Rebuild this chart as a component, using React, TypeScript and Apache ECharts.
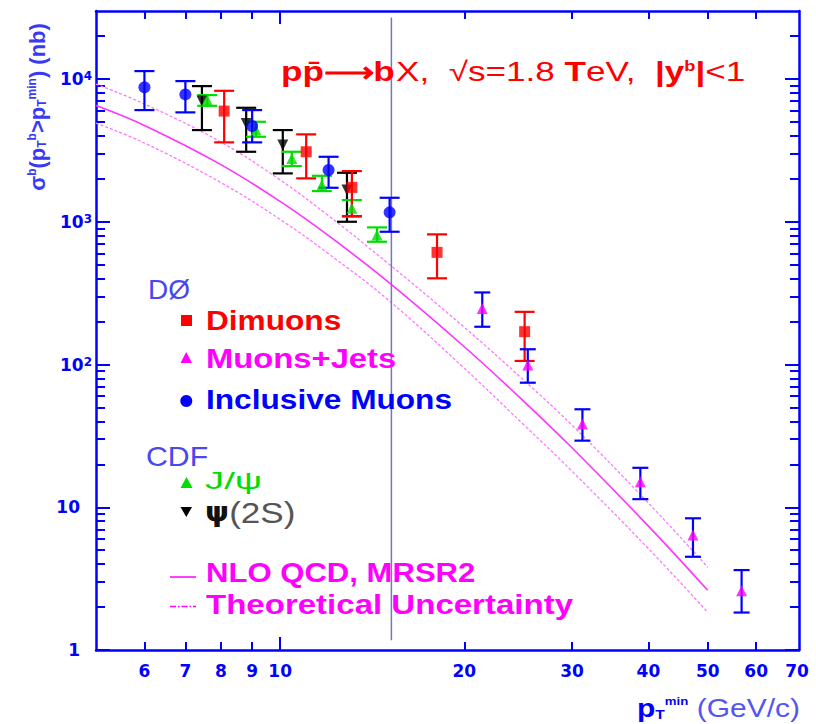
import React, { useEffect, useRef } from "react";
import * as echarts from "echarts";

// ---------- data (pT^min in GeV/c, sigma in nb) ----------
const inclusiveMuonsX = [6.0, 7.0, 9.0, 12.0, 15.1];
const inclusiveMuonsY = [8750, 7810, 4690, 2305, 1165];
const inclusiveMuonsLow = [6065, 5845, 3603, 1732, 852];
const inclusiveMuonsHigh = [11380, 9680, 6065, 2856, 1474];

const psi2SX = [7.45, 8.8, 10.1, 12.86];
const psi2SY = [7015, 4895, 3450, 1669];
const psi2SLow = [4394, 3096, 2184, 1001];
const psi2SHigh = [8930, 6295, 4394, 2206];

const jpsiX = [7.6, 9.13, 10.45, 11.7, 13.1, 14.4];
const jpsiY = [7128, 4394, 2783, 1809, 1243, 808];
const jpsiLow = [6500, 3944, 2458, 1642, 1085, 725];
const jpsiHigh = [7728, 5023, 3096, 2102, 1420, 914];

const dimuonsX = [8.1, 11.03, 13.1, 18.05, 25.1];
const dimuonsY = [5970, 3096, 1743, 611, 170];
const dimuonsLow = [3603, 2016, 1097, 402, 106];
const dimuonsHigh = [8280, 4100, 2267, 817, 234];

const muonsJetsX = [21.4, 25.4, 31.2, 38.8, 47.3, 56.8];
const muonsJetsY = [247.5, 99.2, 38.3, 15.1, 6.39, 2.6];
const muonsJetsLow = [184, 74.6, 29.3, 11.4, 4.5, 1.83];
const muonsJetsHigh = [320, 128, 48.6, 18.9, 8.37, 3.63];

const theoryX = [5, 6, 8, 10, 12, 15, 20, 25, 30, 40, 50];
const nloCentral = [6522, 4730, 2518, 1389, 799, 381, 133.3, 55.5, 26.1, 7.38, 2.62];
const nloUpper = [9225, 6693, 3620, 1965, 1103, 513, 182.5, 77.9, 37.6, 10.7, 3.8];
const nloLower = [4918, 3567, 1884, 1039, 597, 284.9, 94.2, 38.0, 17.9, 5.13, 1.84];

const dividerX = [15.2, 15.2];
const dividerY = [1.17, 27000];

// ---------- axes ----------
const xMin = 5;
const xMax = 70.5;
const yMin = 1;
const yMax = 30000;
const xShortTicks = [6, 7, 8, 9, 20, 30, 40, 50, 60];
const xLongTicks = [10];
const xLabelValues = [6, 7, 8, 9, 10, 20, 30, 40, 50, 60, 70];
const yMajorValues = [1, 10, 100, 1000, 10000];
const yLabelBase = ["1", "10", "10", "10", "10"];
const yLabelExp = ["", "", "2", "3", "4"];
const yMinorValues = [
  2, 3, 4, 5, 6, 7, 8, 9,
  20, 30, 40, 50, 60, 70, 80, 90,
  200, 300, 400, 500, 600, 700, 800, 900,
  2000, 3000, 4000, 5000, 6000, 7000, 8000, 9000,
  20000,
];

const BLUE = "#0000ff";
const RED = "#ff0000";
const MAGENTA = "#ff00ff";
const GREEN = "#00dd00";
const BLACK = "#000000";

function pts(xs: number[], ys: number[]) {
  return xs.map((x, i) => [x, ys[i]]);
}

function errorBars(name: string, xs: number[], lows: number[], highs: number[], color: string, halfCap: number) {
  return {
    type: "custom",
    name,
    xAxisIndex: 0,
    yAxisIndex: 0,
    silent: true,
    z: 3,
    data: xs.map((x, i) => [x, lows[i], highs[i]]),
    encode: { x: 0, y: [1, 2] },
    renderItem: (_params: any, api: any) => {
      const lo = api.coord([api.value(0), api.value(1)]);
      const hi = api.coord([api.value(0), api.value(2)]);
      const style = { stroke: color, lineWidth: 2.2, fill: null };
      return {
        type: "group",
        children: [
          { type: "line", shape: { x1: lo[0], y1: lo[1], x2: hi[0], y2: hi[1] }, style },
          { type: "line", shape: { x1: lo[0] - halfCap, y1: lo[1], x2: lo[0] + halfCap, y2: lo[1] }, style },
          { type: "line", shape: { x1: hi[0] - halfCap, y1: hi[1], x2: hi[0] + halfCap, y2: hi[1] }, style },
        ],
      };
    },
  };
}

function xAxisDef(position: "bottom" | "top", ticks: number[], len: number, showLine: boolean, showLabel: boolean) {
  return {
    type: "log",
    logBase: 10,
    min: xMin,
    max: xMax,
    position,
    axisLine: { show: showLine, onZero: false, lineStyle: { color: BLUE, width: 2.5 } },
    axisTick: { show: true, inside: true, length: len, customValues: ticks, lineStyle: { color: BLUE, width: 2 } },
    axisLabel: showLabel
      ? {
          show: true,
          customValues: xLabelValues,
          margin: 12,
          color: BLUE,
          fontFamily: "DejaVu Sans",
          fontWeight: "bold",
          fontSize: 17,
          formatter: (v: number) => String(Math.round(v)),
        }
      : { show: false },
    splitLine: { show: false },
    minorTick: { show: false },
    minorSplitLine: { show: false },
  };
}

function yAxisDef(position: "left" | "right", ticks: number[], len: number, showLine: boolean, showLabel: boolean) {
  return {
    type: "log",
    logBase: 10,
    min: yMin,
    max: yMax,
    position,
    axisLine: { show: showLine, onZero: false, lineStyle: { color: BLUE, width: 2.5 } },
    axisTick: { show: true, inside: true, length: len, customValues: ticks, lineStyle: { color: BLUE, width: 2 } },
    axisLabel: showLabel
      ? {
          show: true,
          customValues: yMajorValues,
          margin: 4,
          formatter: (v: number) => {
            const e = Math.round(Math.log10(v));
            return yLabelExp[e] ? `{b|${yLabelBase[e]}}{s|${yLabelExp[e]}}` : `{p|${yLabelBase[e]}}`;
          },
          rich: {
            b: { color: BLUE, fontFamily: "DejaVu Sans", fontWeight: "bold", fontSize: 17, lineHeight: 18 },
            s: { color: BLUE, fontFamily: "DejaVu Sans", fontWeight: "bold", fontSize: 12, lineHeight: 12, verticalAlign: "top" },
            p: { color: BLUE, fontFamily: "DejaVu Sans", fontWeight: "bold", fontSize: 17, lineHeight: 18, padding: [0, 12, 0, 0] },
          },
        }
      : { show: false },
    splitLine: { show: false },
    minorTick: { show: false },
    minorSplitLine: { show: false },
  };
}

function txt(x: number, y: number, text: string, font: string, fill: string, scaleX = 1) {
  return {
    type: "text",
    x,
    y,
    scaleX,
    z: 10,
    style: {
      text,
      font,
      fill,
      align: "left",
      verticalAlign: "middle",
      textAlign: "left",
      textVerticalAlign: "middle",
    },
  };
}

const LF = '"Liberation Sans", Arial, sans-serif';
const theoryLine = (name: string, ys: number[], color: string, width: number, type: any) => ({
  type: "line",
  name,
  data: pts(theoryX, ys),
  smooth: 0.4,
  symbol: "none",
  lineStyle: { color, width, type },
  z: 1,
  silent: true,
});

const option: any = {
  animation: false,
  backgroundColor: "#ffffff",
  textStyle: { fontFamily: "Liberation Sans" },
  grid: { left: 96, right: 17, top: 11, bottom: 74, containLabel: false, outerBoundsMode: "none" },
  xAxis: [
    xAxisDef("bottom", xShortTicks, 8, true, true),
    xAxisDef("bottom", xLongTicks, 13, false, false),
    xAxisDef("top", xShortTicks, 8, true, false),
    xAxisDef("top", xLongTicks, 13, false, false),
  ],
  yAxis: [
    yAxisDef("left", yMajorValues, 14, true, true),
    yAxisDef("left", yMinorValues, 9, false, false),
    yAxisDef("right", yMajorValues, 14, true, false),
    yAxisDef("right", yMinorValues, 9, false, false),
  ],
  series: [
    theoryLine("NLO QCD, MRSR2", nloCentral, "#ff33ff", 1.6, "solid"),
    theoryLine("upper", nloUpper, "#ff77ff", 1.3, [3, 2]),
    theoryLine("lower", nloLower, "#ff77ff", 1.3, [3, 2]),
    {
      type: "line",
      name: "divider",
      data: pts(dividerX, dividerY),
      symbol: "none",
      lineStyle: { color: "#7474c4", width: 1.5 },
      z: 2,
      silent: true,
    },
    errorBars("psi2S-err", psi2SX, psi2SLow, psi2SHigh, BLACK, 10),
    errorBars("jpsi-err", jpsiX, jpsiLow, jpsiHigh, GREEN, 10),
    errorBars("dimuons-err", dimuonsX, dimuonsLow, dimuonsHigh, RED, 10),
    errorBars("incl-err", inclusiveMuonsX, inclusiveMuonsLow, inclusiveMuonsHigh, BLUE, 10),
    errorBars("mj-err", muonsJetsX, muonsJetsLow, muonsJetsHigh, BLUE, 8),
    {
      type: "scatter",
      name: "ψ(2S)",
      data: pts(psi2SX, psi2SY),
      symbol: "triangle",
      symbolRotate: 180,
      symbolSize: 11,
      itemStyle: { color: BLACK },
      z: 5,
    },
    {
      type: "scatter",
      name: "J/ψ",
      data: pts(jpsiX, jpsiY),
      symbol: "triangle",
      symbolSize: 11,
      itemStyle: { color: GREEN },
      z: 5,
    },
    {
      type: "scatter",
      name: "Dimuons",
      data: pts(dimuonsX, dimuonsY),
      symbol: "rect",
      symbolSize: 11,
      itemStyle: { color: RED },
      z: 5,
    },
    {
      type: "scatter",
      name: "Inclusive Muons",
      data: pts(inclusiveMuonsX, inclusiveMuonsY),
      symbol: "circle",
      symbolSize: 12,
      itemStyle: { color: BLUE },
      z: 5,
    },
    {
      type: "scatter",
      name: "Muons+Jets",
      data: pts(muonsJetsX, muonsJetsY),
      symbol: "triangle",
      symbolSize: 11,
      itemStyle: { color: MAGENTA },
      z: 5,
    },
  ],
  graphic: [
    // title
    {
      type: "text",
      x: 281,
      y: 72,
      scaleX: 1.3,
      z: 10,
      style: {
        text: "{b|pp̄⟶b}{n|X,  √s=1.8 }{b|T}{n|eV,  }{b||y}{s|b}{b||}{n|<1}",
        align: "left",
        verticalAlign: "middle",
        textAlign: "left",
        textVerticalAlign: "middle",
        rich: {
          b: { fontFamily: "Liberation Sans", fontWeight: "bold", fontSize: 27, fill: RED, color: RED },
          n: { fontFamily: "Liberation Sans", fontSize: 27, fill: RED, color: RED },
          s: { fontFamily: "Liberation Sans", fontWeight: "bold", fontSize: 14, fill: RED, color: RED, verticalAlign: "top" },
        },
      },
    },
    // y-axis title
    {
      type: "text",
      x: 37,
      y: 107,
      rotation: Math.PI / 2,
      scaleX: 1.0,
      z: 10,
      style: {
        text: "{m|σ}{u|b}{m|(p}{d|T}{u|b}{m|>p}{d|T}{u|min}{m|) (nb)}",
        align: "center",
        verticalAlign: "middle",
        textAlign: "center",
        textVerticalAlign: "middle",
        rich: {
          m: { fontFamily: "Liberation Sans", fontWeight: "bold", fontSize: 22, color: "#3a3af5", fill: "#3a3af5" },
          u: { fontFamily: "Liberation Sans", fontWeight: "bold", fontSize: 12, color: "#3a3af5", fill: "#3a3af5", verticalAlign: "top" },
          d: { fontFamily: "Liberation Sans", fontWeight: "bold", fontSize: 12, color: "#3a3af5", fill: "#3a3af5", verticalAlign: "bottom" },
        },
      },
    },
    // x-axis title
    {
      type: "text",
      x: 637,
      y: 708,
      scaleX: 1.2,
      z: 10,
      style: {
        text: "{p|p}{d|T}{u|min}{g| (GeV/c)}",
        align: "left",
        verticalAlign: "middle",
        textAlign: "left",
        textVerticalAlign: "middle",
        rich: {
          p: { fontFamily: "Liberation Sans", fontWeight: "bold", fontSize: 25, color: BLUE, fill: BLUE },
          d: { fontFamily: "Liberation Sans", fontWeight: "bold", fontSize: 13, color: BLUE, fill: BLUE, verticalAlign: "bottom" },
          u: { fontFamily: "Liberation Sans", fontWeight: "bold", fontSize: 11, color: BLUE, fill: BLUE, verticalAlign: "top" },
          g: { fontFamily: "Liberation Sans", fontSize: 25, color: "#5555f2", fill: "#5555f2" },
        },
      },
    },
    // legend: DØ
    txt(148, 289, "DØ", `28px ${LF}`, "#4848ee", 1.0),
    { type: "rect", z: 10, shape: { x: 181, y: 315, width: 11, height: 11 }, style: { fill: RED } },
    txt(206, 320, "Dimuons", `bold 28px ${LF}`, RED, 1.13),
    { type: "polygon", z: 10, shape: { points: [[180.5, 363], [192, 363], [186.2, 352]] }, style: { fill: MAGENTA } },
    txt(206, 358, "Muons+Jets", `bold 28px ${LF}`, MAGENTA, 1.17),
    { type: "circle", z: 10, shape: { cx: 186.3, cy: 401, r: 6 }, style: { fill: BLUE } },
    txt(206, 399, "Inclusive Muons", `bold 28px ${LF}`, BLUE, 1.13),
    // legend: CDF
    txt(146, 456, "CDF", `28px ${LF}`, "#4848ee", 1.08),
    { type: "polygon", z: 10, shape: { points: [[180.5, 488], [192.5, 488], [186.5, 477]] }, style: { fill: GREEN } },
    txt(205, 481, "J/ψ", `24px ${LF}`, GREEN, 1.6),
    { type: "polygon", z: 10, shape: { points: [[180.5, 507], [192, 507], [186.3, 517]] }, style: { fill: BLACK } },
    {
      type: "text",
      x: 205,
      y: 512,
      scaleX: 1.17,
      z: 10,
      style: {
        text: "{k|ψ}{g|(2S)}",
        align: "left",
        verticalAlign: "middle",
        textAlign: "left",
        textVerticalAlign: "middle",
        rich: {
          k: { fontFamily: "DejaVu Sans", fontWeight: "bold", fontSize: 26, color: "#111111", fill: "#111111" },
          g: { fontFamily: "Liberation Sans", fontSize: 30, color: "#555555", fill: "#555555" },
        },
      },
    },
    // legend: theory
    { type: "line", z: 10, shape: { x1: 170, y1: 577, x2: 196, y2: 577 }, style: { stroke: MAGENTA, lineWidth: 1.5 } },
    txt(206, 572, "NLO QCD, MRSR2", `bold 28px ${LF}`, MAGENTA, 1.11),
    { type: "line", z: 10, shape: { x1: 170, y1: 606.5, x2: 196, y2: 606.5 }, style: { stroke: MAGENTA, lineWidth: 1.5, lineDash: [6, 2, 1.5, 2] } },
    txt(206, 604, "Theoretical Uncertainty", `bold 28px ${LF}`, MAGENTA, 1.18),
  ],
};

export default function App() {
  const ref = useRef<HTMLDivElement>(null);
  useEffect(() => {
    if (!ref.current) return;
    const chart = echarts.init(ref.current, null, { renderer: "svg" });
    chart.setOption(option);
    return () => chart.dispose();
  }, []);
  return (
    <div
      ref={ref}
      style={{ position: "fixed", left: 0, top: 0, width: 816, height: 724, background: "#ffffff" }}
    />
  );
}
